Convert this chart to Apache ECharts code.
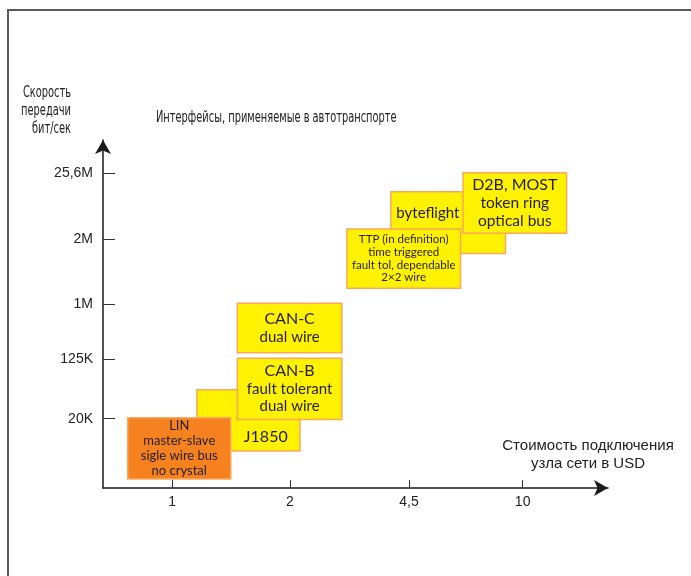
<!DOCTYPE html>
<html>
<head>
<meta charset="utf-8">
<script src="https://cdn.jsdelivr.net/npm/echarts@6/dist/echarts.min.js"></script>
<style>html,body{margin:0;padding:0;background:#fff}#c{width:691px;height:576px}</style>
</head>
<body>
<div id="c"></div>
<script>
// ---- data ----
const xTickPos = [13.7, 37.0, 60.6, 83.1];
const xTickLabels = ['1', '2', '4,5', '10'];
const yTickPos = [19.9, 37.0, 52.8, 71.6, 90.4];
const yTickLabels = ['20K', '125K', '1M', '2M', '25,6M'];

const boxNames = ['J1850', 'LIN', 'CAN-B', 'CAN-C', 'byteflight', 'TTP', 'D2B'];
const boxX0 = [18.6, 4.9, 26.6, 26.6, 57.0, 48.3, 71.3];
const boxX1 = [39.0, 25.3, 47.3, 47.3, 79.7, 70.8, 91.8];
const boxY0 = [10.6, 2.6, 19.7, 38.9, 67.4, 57.4, 73.2];
const boxY1 = [28.2, 20.2, 37.3, 53.1, 85.1, 74.4, 90.6];
const boxHead = ['J1850', 'LIN', 'CAN-B', 'CAN-C', 'byteflight', 'TTP (in definition)', 'D2B, MOST'];
const boxBody = [
  [],
  ['master-slave', 'sigle wire bus', 'no crystal'],
  ['fault tolerant', 'dual wire'],
  ['dual wire'],
  [],
  ['time triggered', 'fault tol, dependable', '2×2 wire'],
  ['token ring', 'optical bus']
];

const title = 'Интерфейсы, применяемые в автотранспорте';
const yName = ['Скорость', 'передачи', 'бит/сек'];
const xName = ['Стоимость подключения', 'узла сети в USD'];

// ---- styles ----
const YELLOW = '#FFF200', ORANGE = '#F5821F';
const boxStyle = {
  'J1850':      {fill: YELLOW, head: 16, body: 14, lh: 18, fx: 0.668, fy: 0.766},
  'LIN':        {fill: ORANGE, head: 13, body: 13, lh: 15, fx: 0.5, fy: 0.5},
  'CAN-B':      {fill: YELLOW, head: 16, body: 15, lh: 17.5, fx: 0.5, fy: 0.5},
  'CAN-C':      {fill: YELLOW, head: 16, body: 15, lh: 18, fx: 0.5, fy: 0.5},
  'byteflight': {fill: YELLOW, head: 15, body: 15, lh: 18, fx: 0.323, fy: 0.35},
  'TTP':        {fill: YELLOW, head: 11.5, body: 11.5, lh: 12.7, fx: 0.5, fy: 0.5},
  'D2B':        {fill: YELLOW, head: 16, body: 15.5, lh: 17.8, fx: 0.5, fy: 0.5}
};
const BOXFONT = 'Lato, "Open Sans", sans-serif';
const NARROW = '"Liberation Sans Narrow", "DejaVu Sans Condensed", Roboto, sans-serif';
const NARROW_SIZE = 15;
const NARROW_SCALE = 0.73;

const seriesData = boxNames.map((n, i) => [boxX0[i], boxX1[i], boxY0[i], boxY1[i], i]);

const chart = echarts.init(document.getElementById('c'), null, {renderer: 'canvas'});

function renderItem(params, api) {
  const i = api.value(4);
  const name = boxNames[i];
  const st = boxStyle[name];
  const p0 = api.coord([api.value(0), api.value(3)]);
  const p1 = api.coord([api.value(1), api.value(2)]);
  const x = p0[0], y = p0[1], w = p1[0] - p0[0], h = p1[1] - p0[1];
  const lines = ['{h|' + boxHead[i] + '}'].concat(boxBody[i].map(s => '{b|' + s + '}'));
  return {
    type: 'group',
    children: [
      {type: 'rect', shape: {x: x, y: y, width: w, height: h},
       style: {fill: st.fill, stroke: '#F9A85E', lineWidth: 1.5}},
      {type: 'text', x: x + w * st.fx, y: y + h * st.fy,
       style: {
         text: lines.join('\n'), align: 'center', verticalAlign: 'middle',
         fill: '#231F20', fontFamily: BOXFONT,
         rich: {
           h: {fontSize: st.head, lineHeight: st.lh, fontFamily: BOXFONT, fill: '#231F20', align: 'center'},
           b: {fontSize: st.body, lineHeight: st.lh, fontFamily: BOXFONT, fill: '#231F20', align: 'center'}
         }
       }}
    ]
  };
}

const option = {
  animation: false,
  backgroundColor: '#fff',
  grid: {left: 103, right: 83, top: 140, bottom: 88, containLabel: false},
  xAxis: {
    type: 'value', min: 0, max: 100,
    axisLine: {show: true, onZero: false, symbol: ['none', 'arrow'], symbolSize: [12, 14],
      lineStyle: {color: '#1a1a1a', width: 1.5}},
    axisTick: {show: true, inside: true, length: 8, customValues: xTickPos, lineStyle: {color: '#333', width: 1}},
    axisLabel: {show: true, customValues: xTickPos, margin: 7, color: '#222', fontSize: 14,
      fontFamily: '"Liberation Sans", Arial, sans-serif',
      formatter: v => { const k = xTickPos.indexOf(v); return k >= 0 ? xTickLabels[k] : ''; }},
    splitLine: {show: false}
  },
  yAxis: {
    type: 'value', min: 0, max: 100,
    axisLine: {show: true, onZero: false, symbol: ['none', 'arrow'], symbolSize: [12, 14],
      lineStyle: {color: '#1a1a1a', width: 1.5}},
    axisTick: {show: true, inside: true, length: 12, customValues: yTickPos, lineStyle: {color: '#333', width: 1}},
    axisLabel: {show: true, customValues: yTickPos, margin: 10, color: '#222', fontSize: 14,
      fontFamily: '"Liberation Sans", Arial, sans-serif',
      formatter: v => { const k = yTickPos.indexOf(v); return k >= 0 ? yTickLabels[k] : ''; }},
    splitLine: {show: false}
  },
  series: [{
    type: 'custom', renderItem: renderItem, data: seriesData,
    encode: {x: [0, 1], y: [2, 3]}, clip: false
  }],
  graphic: [
    {type: 'rect', shape: {x: 8, y: 10, width: 800, height: 700}, silent: true,
     style: {fill: 'none', stroke: '#5a5a5a', lineWidth: 2}},
    {type: 'text', x: 156, y: 118, scaleX: NARROW_SCALE, style: {text: title, fontSize: NARROW_SIZE, fontFamily: NARROW,
      fill: '#222', verticalAlign: 'middle', align: 'left'}},
    {type: 'text', x: 71, y: 111, scaleX: NARROW_SCALE, style: {text: yName.join('\n'), fontSize: NARROW_SIZE, lineHeight: 18,
      fontFamily: NARROW, fill: '#222', verticalAlign: 'middle', align: 'right'}},
    {type: 'text', x: 588, y: 455, style: {text: xName.join('\n'), fontSize: 15, lineHeight: 18,
      fontFamily: '"Liberation Sans", Arial, sans-serif', fill: '#222', verticalAlign: 'middle', align: 'center'}}
  ]
};
chart.setOption(option);
</script>
</body>
</html>
